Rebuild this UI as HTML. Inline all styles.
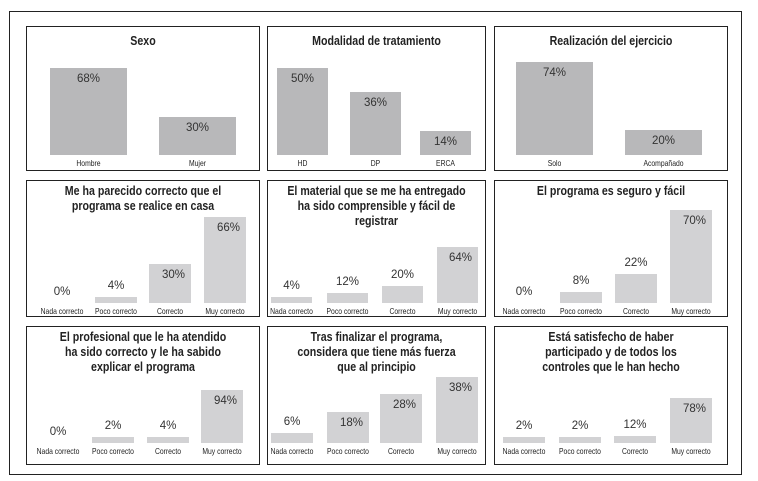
<!DOCTYPE html>
<html><head><meta charset="utf-8">
<style>
body{margin:0;background:#fff;width:758px;height:481px;overflow:hidden;font-family:"Liberation Sans",sans-serif;}
#frame{position:absolute;left:9px;top:11px;width:733px;height:464px;border:1.5px solid #222;box-sizing:border-box;}
.panel{position:absolute;border:1.5px solid #222;box-sizing:border-box;}
.title{position:absolute;left:-40px;right:-40px;text-align:center;font-weight:bold;font-size:12.5px;line-height:15px;color:#222;transform:scaleX(0.85);}
.bar{position:absolute;}
.val{position:absolute;text-align:center;font-size:11.5px;color:#333;}
.cat{position:absolute;text-align:center;font-size:8.5px;color:#222;white-space:nowrap;transform:scaleX(0.8);}
</style></head><body>
<div id="frame"></div>
<div id="root"></div>
<script>
// data arrays
const titles = [
 "Sexo","Modalidad de tratamiento","Realización del ejercicio",
 "Me ha parecido correcto que el<br>programa se realice en casa",
 "El material que se me ha entregado<br>ha sido comprensible y fácil de<br>registrar",
 "El programa es seguro y fácil",
 "El profesional que le ha atendido<br>ha sido correcto y le ha sabido<br>explicar el programa",
 "Tras finalizar el programa,<br>considera que tiene más fuerza<br>que al principio",
 "Está satisfecho de haber<br>participado y de todos los<br>controles que le han hecho"
];
const cats4 = ["Nada correcto","Poco correcto","Correcto","Muy correcto"];
const categories = [["Hombre","Mujer"],["HD","DP","ERCA"],["Solo","Acompañado"],cats4,cats4,cats4,cats4,cats4,cats4];
const sexoValues = [68,30];
const modalidadValues = [50,36,14];
const ejercicioValues = [74,20];
const casaValues = [0,4,30,66];
const materialValues = [4,12,20,64];
const seguroValues = [0,8,22,70];
const profesionalValues = [0,2,4,94];
const fuerzaValues = [6,18,28,38];
const satisfechoValues = [2,2,12,78];
const values = [sexoValues,modalidadValues,ejercicioValues,casaValues,materialValues,seguroValues,profesionalValues,fuerzaValues,satisfechoValues];
const names = ["sexo","modalidad","ejercicio","casa","material","seguro","profesional","fuerza","satisfecho"];

// layout
const panels = [
 {x:26,y:26,w:234,h:145,base:155,scale:1.28,bx:[50,159],bw:77,row:1},
 {x:267,y:26,w:219,h:145,base:155,scale:1.74,bx:[277,350,420],bw:51,row:1},
 {x:494,y:26,w:234,h:145,base:155,scale:1.26,bx:[516,625],bw:77,row:1},
 {x:26,y:180,w:234,h:137,base:303,scale:1.3,bx:[41,95,149,204],bw:42,row:2},
 {x:267,y:180,w:219,h:137,base:303,scale:0.87,bx:[271,327,382,437],bw:41,row:2},
 {x:494,y:180,w:234,h:137,base:303,scale:1.33,bx:[503,560,615,670],bw:42,row:2},
 {x:26,y:326,w:234,h:139,base:443,scale:0.56,bx:[37,92,147,201],bw:42,row:3},
 {x:267,y:326,w:219,h:139,base:443,scale:1.74,bx:[271,327,380,436],bw:42,row:3},
 {x:494,y:326,w:234,h:139,base:443,scale:0.58,bx:[503,559,614,670],bw:42,row:3}
];
const root=document.getElementById('root');
panels.forEach((p,i)=>{
  const pd=document.createElement('div');
  pd.className='panel';
  
  
  pd.style.cssText=`left:${p.x}px;top:${p.y}px;width:${p.w}px;height:${p.h}px`;
  const t=document.createElement('div');
  t.className='title';
  
  
  t.style.top=(p.row===1?7:3)+'px';
  t.innerHTML=titles[i];
  pd.appendChild(t);
  root.appendChild(pd);
  values[i].forEach((v,j)=>{
    let h=v*p.scale;
    if(v>0 && h<6) h=6;
    const x=p.bx[j];
    const b=document.createElement('div');
    b.className='bar';
    
    
    b.style.cssText=`left:${x}px;top:${p.base-h}px;width:${p.bw}px;height:${h}px;background:${p.row===1?'#b8b8ba':'#d2d2d4'}`;
    root.appendChild(b);
    const l=document.createElement('div');
    l.className='val';
    
    
    const inside = p.row===1 ? true : h>31;
    const top = inside ? p.base-h+5 : p.base-h-17;
    l.style.cssText=`left:${x}px;width:${p.bw}px;top:${top}px`;
    if(inside && p.row>1){l.style.textAlign='right';l.style.width=(p.bw-6)+'px';}
    l.textContent=v+'%';
    root.appendChild(l);
    const c=document.createElement('div');
    c.className='cat';
    
    
    c.style.cssText=`left:${x-15}px;width:${p.bw+30}px;top:${p.base+3}px`;
    c.textContent=categories[i][j];
    root.appendChild(c);
  });
});
</script>
</body></html>
